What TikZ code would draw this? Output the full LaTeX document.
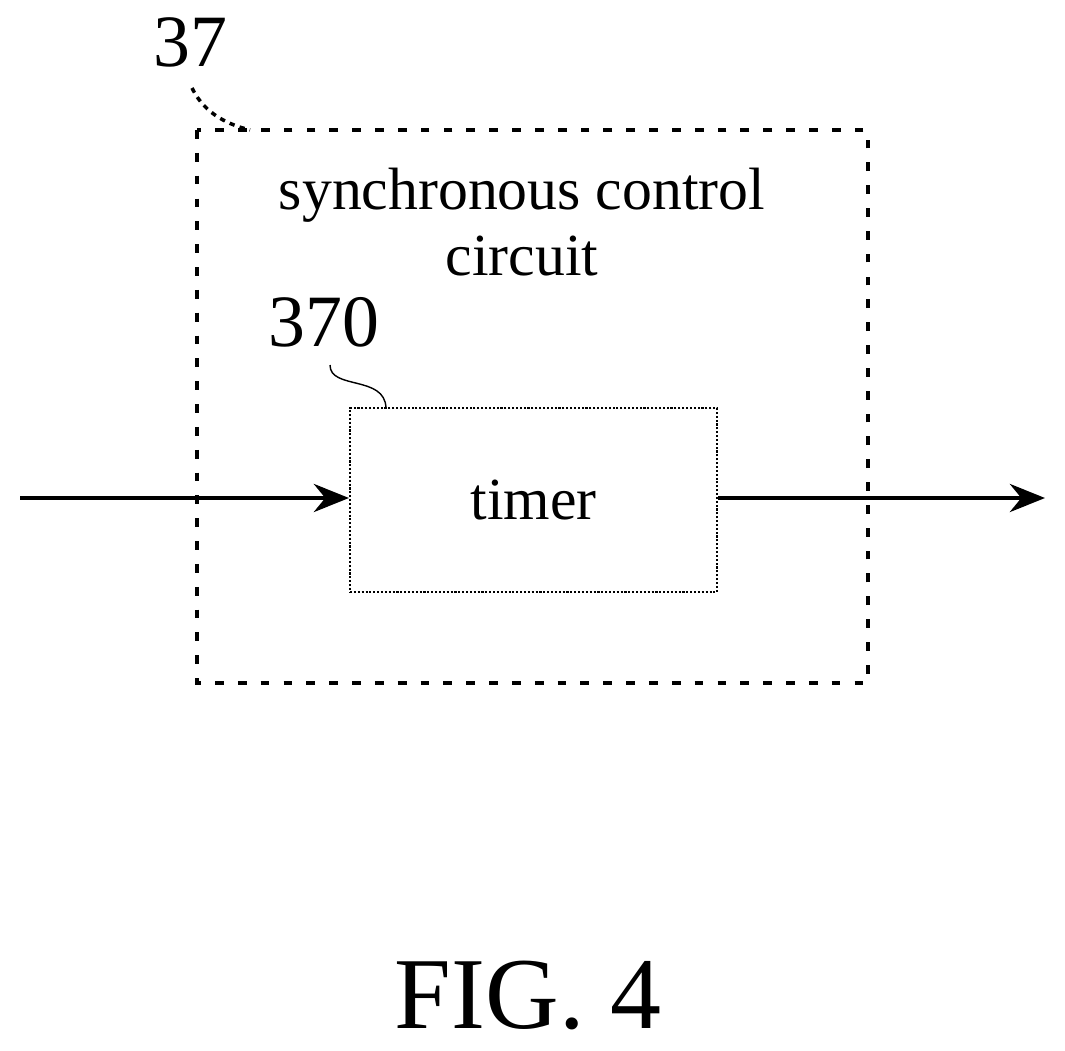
\documentclass[tikz,border=0pt]{standalone}
\usepackage{fontspec}
\setmainfont{Liberation Serif}
\usetikzlibrary{positioning,arrows.meta}
\begin{document}
\begin{tikzpicture}[x=0.02cm,y=-0.02cm,
  txt/.style={font=\fontsize{34}{38}\selectfont},
  num/.style={font=\fontsize{42}{46}\selectfont},
  blk/.style={draw,line width=1.2pt,densely dotted,minimum width=7.34cm,minimum height=3.68cm},
  sig/.style={line width=2.4pt,-{Stealth[length=20pt,width=16pt]}}]
\useasboundingbox (0,0) rectangle (1065,1051);
% outer dashed block
\draw[line width=2.4pt,dash pattern=on 5pt off 8pt] (197,130) rectangle (868,683);
\node[txt,align=center] (lbl) at (522,222) {synchronous control\\circuit};
% timer
\node[blk,txt] (timer) at (533.5,500) {timer};
\coordinate (in) at (20,498);
\coordinate (out) at (1045,498);
\draw[sig] (in) -- (timer.west|-in);
\draw[sig] (timer.east|-out) -- (out);
% reference numerals
\node[num] (n37) at (190,42) {37};
\draw[line width=2pt,dashed] (192,88) .. controls (205,115) and (230,125) .. (250,130);
\node[num] (n370) at (324,322) {370};
\draw[line width=0.8pt] (330,365) .. controls (330,390) and (385,375) .. (386,408);
\node[font=\fontsize{58}{62}\selectfont] (fig) at (528,995) {FIG. 4};
\end{tikzpicture}
\end{document}
